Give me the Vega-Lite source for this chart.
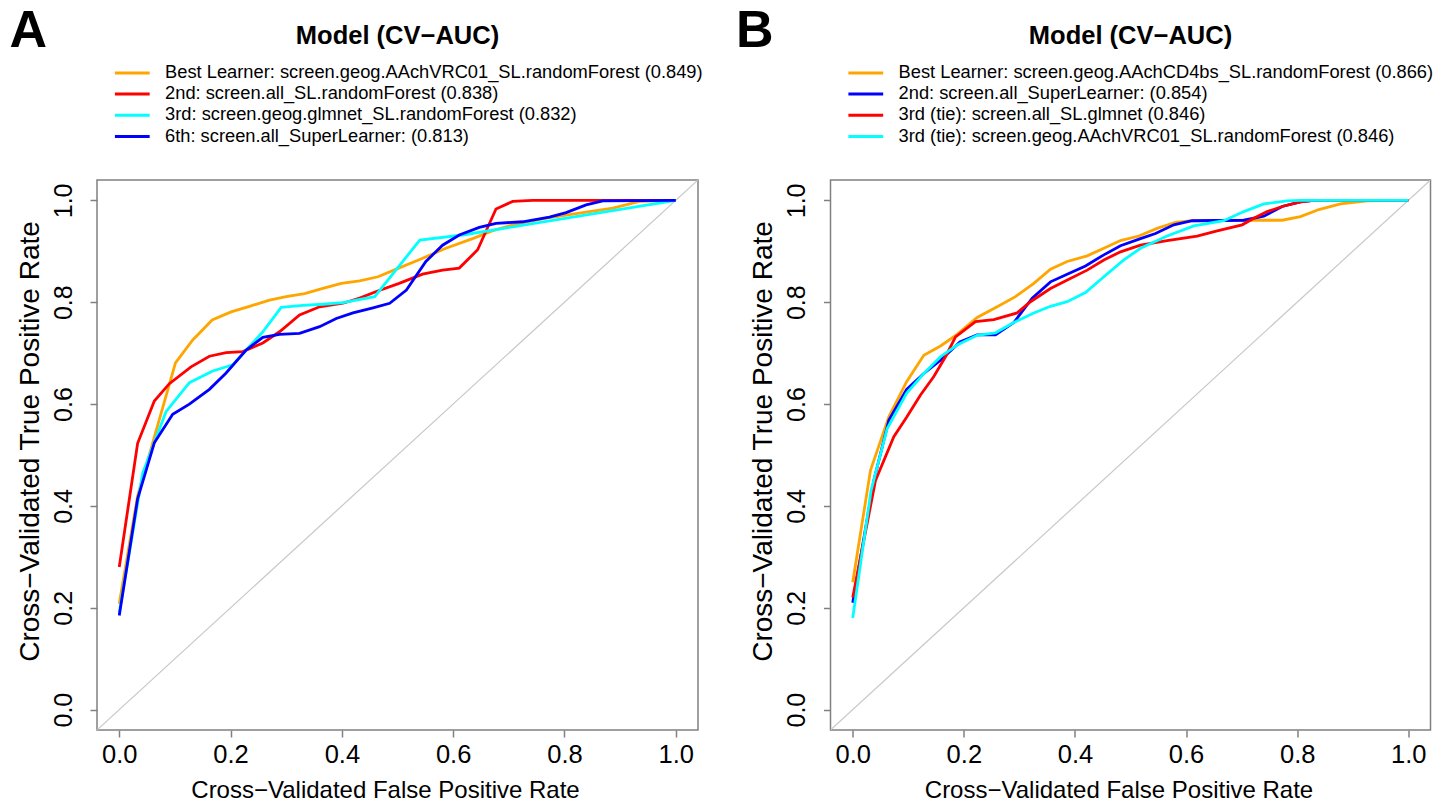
{
  "$schema": "https://vega.github.io/schema/vega-lite/v6.json",
  "padding": {"left": 9, "top": 4, "right": 5, "bottom": 0},
  "spacing": 22.5,
  "resolve": {"scale": {"color": "independent"}, "legend": {"color": "independent"}},
  "config": {
    "font": "Liberation Sans",
    "view": {"stroke": "#808080", "strokeWidth": 1.5},
    "axis": {
      "grid": false, "domain": false, "tickColor": "#808080", "tickSize": 7, "tickWidth": 1.5,
      "labelFontSize": 24, "labelColor": "#000000", "labelFont": "Liberation Sans",
      "titleFontSize": 24, "titleFontWeight": "normal", "titleColor": "#000000", "titleFont": "Liberation Sans"
    },
    "title": {"font": "Liberation Sans", "color": "#000000"}
  },
  "datasets": {
    "diag": [{"fpr": -0.04, "tpr": -0.04}, {"fpr": 1.04, "tpr": 1.04}],
    "rocA": [
      {"model": "Best Learner: screen.geog.AAchVRC01_SL.randomForest (0.849)", "fpr": 0, "tpr": 0.208},
      {"model": "Best Learner: screen.geog.AAchVRC01_SL.randomForest (0.849)", "fpr": 0.033, "tpr": 0.42},
      {"model": "Best Learner: screen.geog.AAchVRC01_SL.randomForest (0.849)", "fpr": 0.101, "tpr": 0.681},
      {"model": "Best Learner: screen.geog.AAchVRC01_SL.randomForest (0.849)", "fpr": 0.132, "tpr": 0.726},
      {"model": "Best Learner: screen.geog.AAchVRC01_SL.randomForest (0.849)", "fpr": 0.167, "tpr": 0.765},
      {"model": "Best Learner: screen.geog.AAchVRC01_SL.randomForest (0.849)", "fpr": 0.201, "tpr": 0.781},
      {"model": "Best Learner: screen.geog.AAchVRC01_SL.randomForest (0.849)", "fpr": 0.234, "tpr": 0.792},
      {"model": "Best Learner: screen.geog.AAchVRC01_SL.randomForest (0.849)", "fpr": 0.27, "tpr": 0.804},
      {"model": "Best Learner: screen.geog.AAchVRC01_SL.randomForest (0.849)", "fpr": 0.3, "tpr": 0.811},
      {"model": "Best Learner: screen.geog.AAchVRC01_SL.randomForest (0.849)", "fpr": 0.333, "tpr": 0.817},
      {"model": "Best Learner: screen.geog.AAchVRC01_SL.randomForest (0.849)", "fpr": 0.366, "tpr": 0.827},
      {"model": "Best Learner: screen.geog.AAchVRC01_SL.randomForest (0.849)", "fpr": 0.399, "tpr": 0.837},
      {"model": "Best Learner: screen.geog.AAchVRC01_SL.randomForest (0.849)", "fpr": 0.432, "tpr": 0.842},
      {"model": "Best Learner: screen.geog.AAchVRC01_SL.randomForest (0.849)", "fpr": 0.465, "tpr": 0.85},
      {"model": "Best Learner: screen.geog.AAchVRC01_SL.randomForest (0.849)", "fpr": 0.5, "tpr": 0.866},
      {"model": "Best Learner: screen.geog.AAchVRC01_SL.randomForest (0.849)", "fpr": 0.54, "tpr": 0.884},
      {"model": "Best Learner: screen.geog.AAchVRC01_SL.randomForest (0.849)", "fpr": 0.587, "tpr": 0.906},
      {"model": "Best Learner: screen.geog.AAchVRC01_SL.randomForest (0.849)", "fpr": 0.635, "tpr": 0.925},
      {"model": "Best Learner: screen.geog.AAchVRC01_SL.randomForest (0.849)", "fpr": 0.67, "tpr": 0.94},
      {"model": "Best Learner: screen.geog.AAchVRC01_SL.randomForest (0.849)", "fpr": 0.707, "tpr": 0.952},
      {"model": "Best Learner: screen.geog.AAchVRC01_SL.randomForest (0.849)", "fpr": 0.767, "tpr": 0.965},
      {"model": "Best Learner: screen.geog.AAchVRC01_SL.randomForest (0.849)", "fpr": 0.827, "tpr": 0.975},
      {"model": "Best Learner: screen.geog.AAchVRC01_SL.randomForest (0.849)", "fpr": 0.887, "tpr": 0.985},
      {"model": "Best Learner: screen.geog.AAchVRC01_SL.randomForest (0.849)", "fpr": 0.935, "tpr": 0.998},
      {"model": "Best Learner: screen.geog.AAchVRC01_SL.randomForest (0.849)", "fpr": 1.0, "tpr": 1.0},
      {"model": "2nd: screen.all_SL.randomForest (0.838)", "fpr": 0, "tpr": 0.28},
      {"model": "2nd: screen.all_SL.randomForest (0.838)", "fpr": 0.033, "tpr": 0.523},
      {"model": "2nd: screen.all_SL.randomForest (0.838)", "fpr": 0.063, "tpr": 0.606},
      {"model": "2nd: screen.all_SL.randomForest (0.838)", "fpr": 0.09, "tpr": 0.64},
      {"model": "2nd: screen.all_SL.randomForest (0.838)", "fpr": 0.129, "tpr": 0.673},
      {"model": "2nd: screen.all_SL.randomForest (0.838)", "fpr": 0.162, "tpr": 0.694},
      {"model": "2nd: screen.all_SL.randomForest (0.838)", "fpr": 0.192, "tpr": 0.701},
      {"model": "2nd: screen.all_SL.randomForest (0.838)", "fpr": 0.222, "tpr": 0.703},
      {"model": "2nd: screen.all_SL.randomForest (0.838)", "fpr": 0.258, "tpr": 0.72},
      {"model": "2nd: screen.all_SL.randomForest (0.838)", "fpr": 0.288, "tpr": 0.742},
      {"model": "2nd: screen.all_SL.randomForest (0.838)", "fpr": 0.324, "tpr": 0.775},
      {"model": "2nd: screen.all_SL.randomForest (0.838)", "fpr": 0.36, "tpr": 0.791},
      {"model": "2nd: screen.all_SL.randomForest (0.838)", "fpr": 0.402, "tpr": 0.798},
      {"model": "2nd: screen.all_SL.randomForest (0.838)", "fpr": 0.432, "tpr": 0.808},
      {"model": "2nd: screen.all_SL.randomForest (0.838)", "fpr": 0.462, "tpr": 0.821},
      {"model": "2nd: screen.all_SL.randomForest (0.838)", "fpr": 0.503, "tpr": 0.837},
      {"model": "2nd: screen.all_SL.randomForest (0.838)", "fpr": 0.545, "tpr": 0.855},
      {"model": "2nd: screen.all_SL.randomForest (0.838)", "fpr": 0.581, "tpr": 0.863},
      {"model": "2nd: screen.all_SL.randomForest (0.838)", "fpr": 0.611, "tpr": 0.867},
      {"model": "2nd: screen.all_SL.randomForest (0.838)", "fpr": 0.644, "tpr": 0.903},
      {"model": "2nd: screen.all_SL.randomForest (0.838)", "fpr": 0.677, "tpr": 0.983},
      {"model": "2nd: screen.all_SL.randomForest (0.838)", "fpr": 0.707, "tpr": 0.998},
      {"model": "2nd: screen.all_SL.randomForest (0.838)", "fpr": 0.743, "tpr": 1.0},
      {"model": "2nd: screen.all_SL.randomForest (0.838)", "fpr": 1.0, "tpr": 1.0},
      {"model": "3rd: screen.geog.glmnet_SL.randomForest (0.832)", "fpr": 0, "tpr": 0.19},
      {"model": "3rd: screen.geog.glmnet_SL.randomForest (0.832)", "fpr": 0.042, "tpr": 0.464},
      {"model": "3rd: screen.geog.glmnet_SL.randomForest (0.832)", "fpr": 0.084, "tpr": 0.585},
      {"model": "3rd: screen.geog.glmnet_SL.randomForest (0.832)", "fpr": 0.126, "tpr": 0.642},
      {"model": "3rd: screen.geog.glmnet_SL.randomForest (0.832)", "fpr": 0.168, "tpr": 0.665},
      {"model": "3rd: screen.geog.glmnet_SL.randomForest (0.832)", "fpr": 0.204, "tpr": 0.677},
      {"model": "3rd: screen.geog.glmnet_SL.randomForest (0.832)", "fpr": 0.228, "tpr": 0.706},
      {"model": "3rd: screen.geog.glmnet_SL.randomForest (0.832)", "fpr": 0.258, "tpr": 0.742},
      {"model": "3rd: screen.geog.glmnet_SL.randomForest (0.832)", "fpr": 0.291, "tpr": 0.79},
      {"model": "3rd: screen.geog.glmnet_SL.randomForest (0.832)", "fpr": 0.33, "tpr": 0.794},
      {"model": "3rd: screen.geog.glmnet_SL.randomForest (0.832)", "fpr": 0.366, "tpr": 0.796},
      {"model": "3rd: screen.geog.glmnet_SL.randomForest (0.832)", "fpr": 0.402, "tpr": 0.799},
      {"model": "3rd: screen.geog.glmnet_SL.randomForest (0.832)", "fpr": 0.459, "tpr": 0.811},
      {"model": "3rd: screen.geog.glmnet_SL.randomForest (0.832)", "fpr": 0.54, "tpr": 0.922},
      {"model": "3rd: screen.geog.glmnet_SL.randomForest (0.832)", "fpr": 0.617, "tpr": 0.932},
      {"model": "3rd: screen.geog.glmnet_SL.randomForest (0.832)", "fpr": 1.0, "tpr": 1.0},
      {"model": "6th: screen.all_SuperLearner: (0.813)", "fpr": 0, "tpr": 0.185},
      {"model": "6th: screen.all_SuperLearner: (0.813)", "fpr": 0.033, "tpr": 0.414},
      {"model": "6th: screen.all_SuperLearner: (0.813)", "fpr": 0.063, "tpr": 0.524},
      {"model": "6th: screen.all_SuperLearner: (0.813)", "fpr": 0.096, "tpr": 0.58},
      {"model": "6th: screen.all_SuperLearner: (0.813)", "fpr": 0.126, "tpr": 0.6},
      {"model": "6th: screen.all_SuperLearner: (0.813)", "fpr": 0.162, "tpr": 0.629},
      {"model": "6th: screen.all_SuperLearner: (0.813)", "fpr": 0.192, "tpr": 0.661},
      {"model": "6th: screen.all_SuperLearner: (0.813)", "fpr": 0.228, "tpr": 0.706},
      {"model": "6th: screen.all_SuperLearner: (0.813)", "fpr": 0.258, "tpr": 0.731},
      {"model": "6th: screen.all_SuperLearner: (0.813)", "fpr": 0.288, "tpr": 0.737},
      {"model": "6th: screen.all_SuperLearner: (0.813)", "fpr": 0.324, "tpr": 0.739},
      {"model": "6th: screen.all_SuperLearner: (0.813)", "fpr": 0.36, "tpr": 0.752},
      {"model": "6th: screen.all_SuperLearner: (0.813)", "fpr": 0.39, "tpr": 0.768},
      {"model": "6th: screen.all_SuperLearner: (0.813)", "fpr": 0.42, "tpr": 0.779},
      {"model": "6th: screen.all_SuperLearner: (0.813)", "fpr": 0.456, "tpr": 0.789},
      {"model": "6th: screen.all_SuperLearner: (0.813)", "fpr": 0.486, "tpr": 0.798},
      {"model": "6th: screen.all_SuperLearner: (0.813)", "fpr": 0.516, "tpr": 0.824},
      {"model": "6th: screen.all_SuperLearner: (0.813)", "fpr": 0.551, "tpr": 0.88},
      {"model": "6th: screen.all_SuperLearner: (0.813)", "fpr": 0.581, "tpr": 0.912},
      {"model": "6th: screen.all_SuperLearner: (0.813)", "fpr": 0.611, "tpr": 0.932},
      {"model": "6th: screen.all_SuperLearner: (0.813)", "fpr": 0.647, "tpr": 0.947},
      {"model": "6th: screen.all_SuperLearner: (0.813)", "fpr": 0.677, "tpr": 0.955},
      {"model": "6th: screen.all_SuperLearner: (0.813)", "fpr": 0.725, "tpr": 0.958},
      {"model": "6th: screen.all_SuperLearner: (0.813)", "fpr": 0.773, "tpr": 0.967},
      {"model": "6th: screen.all_SuperLearner: (0.813)", "fpr": 0.803, "tpr": 0.976},
      {"model": "6th: screen.all_SuperLearner: (0.813)", "fpr": 0.839, "tpr": 0.991},
      {"model": "6th: screen.all_SuperLearner: (0.813)", "fpr": 0.869, "tpr": 0.999},
      {"model": "6th: screen.all_SuperLearner: (0.813)", "fpr": 1.0, "tpr": 1.0}
    ],
    "rocB": [
      {"model": "Best Learner: screen.geog.AAchCD4bs_SL.randomForest (0.866)", "fpr": 0, "tpr": 0.25},
      {"model": "Best Learner: screen.geog.AAchCD4bs_SL.randomForest (0.866)", "fpr": 0.032, "tpr": 0.47},
      {"model": "Best Learner: screen.geog.AAchCD4bs_SL.randomForest (0.866)", "fpr": 0.065, "tpr": 0.575},
      {"model": "Best Learner: screen.geog.AAchCD4bs_SL.randomForest (0.866)", "fpr": 0.097, "tpr": 0.644},
      {"model": "Best Learner: screen.geog.AAchCD4bs_SL.randomForest (0.866)", "fpr": 0.128, "tpr": 0.696},
      {"model": "Best Learner: screen.geog.AAchCD4bs_SL.randomForest (0.866)", "fpr": 0.158, "tpr": 0.714},
      {"model": "Best Learner: screen.geog.AAchCD4bs_SL.randomForest (0.866)", "fpr": 0.188, "tpr": 0.737},
      {"model": "Best Learner: screen.geog.AAchCD4bs_SL.randomForest (0.866)", "fpr": 0.224, "tpr": 0.77},
      {"model": "Best Learner: screen.geog.AAchCD4bs_SL.randomForest (0.866)", "fpr": 0.26, "tpr": 0.791},
      {"model": "Best Learner: screen.geog.AAchCD4bs_SL.randomForest (0.866)", "fpr": 0.293, "tpr": 0.811},
      {"model": "Best Learner: screen.geog.AAchCD4bs_SL.randomForest (0.866)", "fpr": 0.326, "tpr": 0.837},
      {"model": "Best Learner: screen.geog.AAchCD4bs_SL.randomForest (0.866)", "fpr": 0.356, "tpr": 0.865},
      {"model": "Best Learner: screen.geog.AAchCD4bs_SL.randomForest (0.866)", "fpr": 0.386, "tpr": 0.88},
      {"model": "Best Learner: screen.geog.AAchCD4bs_SL.randomForest (0.866)", "fpr": 0.422, "tpr": 0.891},
      {"model": "Best Learner: screen.geog.AAchCD4bs_SL.randomForest (0.866)", "fpr": 0.452, "tpr": 0.906},
      {"model": "Best Learner: screen.geog.AAchCD4bs_SL.randomForest (0.866)", "fpr": 0.482, "tpr": 0.921},
      {"model": "Best Learner: screen.geog.AAchCD4bs_SL.randomForest (0.866)", "fpr": 0.515, "tpr": 0.93},
      {"model": "Best Learner: screen.geog.AAchCD4bs_SL.randomForest (0.866)", "fpr": 0.548, "tpr": 0.945},
      {"model": "Best Learner: screen.geog.AAchCD4bs_SL.randomForest (0.866)", "fpr": 0.581, "tpr": 0.957},
      {"model": "Best Learner: screen.geog.AAchCD4bs_SL.randomForest (0.866)", "fpr": 0.611, "tpr": 0.96},
      {"model": "Best Learner: screen.geog.AAchCD4bs_SL.randomForest (0.866)", "fpr": 0.716, "tpr": 0.961},
      {"model": "Best Learner: screen.geog.AAchCD4bs_SL.randomForest (0.866)", "fpr": 0.773, "tpr": 0.961},
      {"model": "Best Learner: screen.geog.AAchCD4bs_SL.randomForest (0.866)", "fpr": 0.806, "tpr": 0.968},
      {"model": "Best Learner: screen.geog.AAchCD4bs_SL.randomForest (0.866)", "fpr": 0.839, "tpr": 0.982},
      {"model": "Best Learner: screen.geog.AAchCD4bs_SL.randomForest (0.866)", "fpr": 0.878, "tpr": 0.993},
      {"model": "Best Learner: screen.geog.AAchCD4bs_SL.randomForest (0.866)", "fpr": 0.926, "tpr": 0.999},
      {"model": "Best Learner: screen.geog.AAchCD4bs_SL.randomForest (0.866)", "fpr": 1.0, "tpr": 1.0},
      {"model": "2nd: screen.all_SuperLearner: (0.854)", "fpr": 0, "tpr": 0.21},
      {"model": "2nd: screen.all_SuperLearner: (0.854)", "fpr": 0.038, "tpr": 0.45},
      {"model": "2nd: screen.all_SuperLearner: (0.854)", "fpr": 0.065, "tpr": 0.568},
      {"model": "2nd: screen.all_SuperLearner: (0.854)", "fpr": 0.097, "tpr": 0.629},
      {"model": "2nd: screen.all_SuperLearner: (0.854)", "fpr": 0.128, "tpr": 0.66},
      {"model": "2nd: screen.all_SuperLearner: (0.854)", "fpr": 0.158, "tpr": 0.686},
      {"model": "2nd: screen.all_SuperLearner: (0.854)", "fpr": 0.193, "tpr": 0.722},
      {"model": "2nd: screen.all_SuperLearner: (0.854)", "fpr": 0.224, "tpr": 0.736},
      {"model": "2nd: screen.all_SuperLearner: (0.854)", "fpr": 0.257, "tpr": 0.736},
      {"model": "2nd: screen.all_SuperLearner: (0.854)", "fpr": 0.29, "tpr": 0.76},
      {"model": "2nd: screen.all_SuperLearner: (0.854)", "fpr": 0.323, "tpr": 0.808},
      {"model": "2nd: screen.all_SuperLearner: (0.854)", "fpr": 0.356, "tpr": 0.84},
      {"model": "2nd: screen.all_SuperLearner: (0.854)", "fpr": 0.386, "tpr": 0.855},
      {"model": "2nd: screen.all_SuperLearner: (0.854)", "fpr": 0.419, "tpr": 0.871},
      {"model": "2nd: screen.all_SuperLearner: (0.854)", "fpr": 0.452, "tpr": 0.893},
      {"model": "2nd: screen.all_SuperLearner: (0.854)", "fpr": 0.482, "tpr": 0.911},
      {"model": "2nd: screen.all_SuperLearner: (0.854)", "fpr": 0.518, "tpr": 0.925},
      {"model": "2nd: screen.all_SuperLearner: (0.854)", "fpr": 0.545, "tpr": 0.935},
      {"model": "2nd: screen.all_SuperLearner: (0.854)", "fpr": 0.578, "tpr": 0.952},
      {"model": "2nd: screen.all_SuperLearner: (0.854)", "fpr": 0.611, "tpr": 0.96},
      {"model": "2nd: screen.all_SuperLearner: (0.854)", "fpr": 0.704, "tpr": 0.961},
      {"model": "2nd: screen.all_SuperLearner: (0.854)", "fpr": 0.74, "tpr": 0.969},
      {"model": "2nd: screen.all_SuperLearner: (0.854)", "fpr": 0.773, "tpr": 0.988},
      {"model": "2nd: screen.all_SuperLearner: (0.854)", "fpr": 0.806, "tpr": 0.997},
      {"model": "2nd: screen.all_SuperLearner: (0.854)", "fpr": 0.83, "tpr": 1.0},
      {"model": "2nd: screen.all_SuperLearner: (0.854)", "fpr": 1.0, "tpr": 1.0},
      {"model": "3rd (tie): screen.all_SL.glmnet (0.846)", "fpr": 0, "tpr": 0.22},
      {"model": "3rd (tie): screen.all_SL.glmnet (0.846)", "fpr": 0.041, "tpr": 0.45},
      {"model": "3rd (tie): screen.all_SL.glmnet (0.846)", "fpr": 0.074, "tpr": 0.536},
      {"model": "3rd (tie): screen.all_SL.glmnet (0.846)", "fpr": 0.097, "tpr": 0.574},
      {"model": "3rd (tie): screen.all_SL.glmnet (0.846)", "fpr": 0.122, "tpr": 0.618},
      {"model": "3rd (tie): screen.all_SL.glmnet (0.846)", "fpr": 0.146, "tpr": 0.654},
      {"model": "3rd (tie): screen.all_SL.glmnet (0.846)", "fpr": 0.167, "tpr": 0.693},
      {"model": "3rd (tie): screen.all_SL.glmnet (0.846)", "fpr": 0.185, "tpr": 0.732},
      {"model": "3rd (tie): screen.all_SL.glmnet (0.846)", "fpr": 0.221, "tpr": 0.762},
      {"model": "3rd (tie): screen.all_SL.glmnet (0.846)", "fpr": 0.254, "tpr": 0.766},
      {"model": "3rd (tie): screen.all_SL.glmnet (0.846)", "fpr": 0.296, "tpr": 0.779},
      {"model": "3rd (tie): screen.all_SL.glmnet (0.846)", "fpr": 0.32, "tpr": 0.801},
      {"model": "3rd (tie): screen.all_SL.glmnet (0.846)", "fpr": 0.356, "tpr": 0.827},
      {"model": "3rd (tie): screen.all_SL.glmnet (0.846)", "fpr": 0.389, "tpr": 0.845},
      {"model": "3rd (tie): screen.all_SL.glmnet (0.846)", "fpr": 0.422, "tpr": 0.863},
      {"model": "3rd (tie): screen.all_SL.glmnet (0.846)", "fpr": 0.452, "tpr": 0.883},
      {"model": "3rd (tie): screen.all_SL.glmnet (0.846)", "fpr": 0.482, "tpr": 0.899},
      {"model": "3rd (tie): screen.all_SL.glmnet (0.846)", "fpr": 0.518, "tpr": 0.912},
      {"model": "3rd (tie): screen.all_SL.glmnet (0.846)", "fpr": 0.566, "tpr": 0.921},
      {"model": "3rd (tie): screen.all_SL.glmnet (0.846)", "fpr": 0.62, "tpr": 0.93},
      {"model": "3rd (tie): screen.all_SL.glmnet (0.846)", "fpr": 0.656, "tpr": 0.94},
      {"model": "3rd (tie): screen.all_SL.glmnet (0.846)", "fpr": 0.701, "tpr": 0.952},
      {"model": "3rd (tie): screen.all_SL.glmnet (0.846)", "fpr": 0.722, "tpr": 0.965},
      {"model": "3rd (tie): screen.all_SL.glmnet (0.846)", "fpr": 0.746, "tpr": 0.978},
      {"model": "3rd (tie): screen.all_SL.glmnet (0.846)", "fpr": 0.776, "tpr": 0.989},
      {"model": "3rd (tie): screen.all_SL.glmnet (0.846)", "fpr": 0.806, "tpr": 0.997},
      {"model": "3rd (tie): screen.all_SL.glmnet (0.846)", "fpr": 0.83, "tpr": 1.0},
      {"model": "3rd (tie): screen.all_SL.glmnet (0.846)", "fpr": 1.0, "tpr": 1.0},
      {"model": "3rd (tie): screen.geog.AAchVRC01_SL.randomForest (0.846)", "fpr": 0, "tpr": 0.18},
      {"model": "3rd (tie): screen.geog.AAchVRC01_SL.randomForest (0.846)", "fpr": 0.033, "tpr": 0.43},
      {"model": "3rd (tie): screen.geog.AAchVRC01_SL.randomForest (0.846)", "fpr": 0.062, "tpr": 0.552},
      {"model": "3rd (tie): screen.geog.AAchVRC01_SL.randomForest (0.846)", "fpr": 0.097, "tpr": 0.621},
      {"model": "3rd (tie): screen.geog.AAchVRC01_SL.randomForest (0.846)", "fpr": 0.128, "tpr": 0.66},
      {"model": "3rd (tie): screen.geog.AAchVRC01_SL.randomForest (0.846)", "fpr": 0.158, "tpr": 0.693},
      {"model": "3rd (tie): screen.geog.AAchVRC01_SL.randomForest (0.846)", "fpr": 0.188, "tpr": 0.716},
      {"model": "3rd (tie): screen.geog.AAchVRC01_SL.randomForest (0.846)", "fpr": 0.224, "tpr": 0.735},
      {"model": "3rd (tie): screen.geog.AAchVRC01_SL.randomForest (0.846)", "fpr": 0.257, "tpr": 0.74},
      {"model": "3rd (tie): screen.geog.AAchVRC01_SL.randomForest (0.846)", "fpr": 0.29, "tpr": 0.76},
      {"model": "3rd (tie): screen.geog.AAchVRC01_SL.randomForest (0.846)", "fpr": 0.326, "tpr": 0.779},
      {"model": "3rd (tie): screen.geog.AAchVRC01_SL.randomForest (0.846)", "fpr": 0.356, "tpr": 0.792},
      {"model": "3rd (tie): screen.geog.AAchVRC01_SL.randomForest (0.846)", "fpr": 0.386, "tpr": 0.801},
      {"model": "3rd (tie): screen.geog.AAchVRC01_SL.randomForest (0.846)", "fpr": 0.419, "tpr": 0.819},
      {"model": "3rd (tie): screen.geog.AAchVRC01_SL.randomForest (0.846)", "fpr": 0.452, "tpr": 0.85},
      {"model": "3rd (tie): screen.geog.AAchVRC01_SL.randomForest (0.846)", "fpr": 0.488, "tpr": 0.883},
      {"model": "3rd (tie): screen.geog.AAchVRC01_SL.randomForest (0.846)", "fpr": 0.518, "tpr": 0.906},
      {"model": "3rd (tie): screen.geog.AAchVRC01_SL.randomForest (0.846)", "fpr": 0.566, "tpr": 0.93},
      {"model": "3rd (tie): screen.geog.AAchVRC01_SL.randomForest (0.846)", "fpr": 0.614, "tpr": 0.95},
      {"model": "3rd (tie): screen.geog.AAchVRC01_SL.randomForest (0.846)", "fpr": 0.668, "tpr": 0.96},
      {"model": "3rd (tie): screen.geog.AAchVRC01_SL.randomForest (0.846)", "fpr": 0.704, "tpr": 0.978},
      {"model": "3rd (tie): screen.geog.AAchVRC01_SL.randomForest (0.846)", "fpr": 0.74, "tpr": 0.993},
      {"model": "3rd (tie): screen.geog.AAchVRC01_SL.randomForest (0.846)", "fpr": 0.782, "tpr": 0.999},
      {"model": "3rd (tie): screen.geog.AAchVRC01_SL.randomForest (0.846)", "fpr": 0.806, "tpr": 1.0},
      {"model": "3rd (tie): screen.geog.AAchVRC01_SL.randomForest (0.846)", "fpr": 1.0, "tpr": 1.0}
    ]
  },
  "hconcat": [
    {
      "title": {"text": "A", "anchor": "start", "frame": "bounds", "fontSize": 52, "fontWeight": "bold", "baseline": "alphabetic", "offset": 0, "dy": 76, "dx": -6},
      "resolve": {"scale": {"color": "independent"}, "legend": {"color": "independent"}},
      "hconcat": [
        {
          "title": {"text": "Model (CV−AUC)", "anchor": "middle", "frame": "group", "fontSize": 25.5, "fontWeight": "bold", "offset": 6},
          "width": 601,
          "height": 550,
          "layer": [
            {
              "data": {"name": "diag"},
              "mark": {"type": "line", "stroke": "#c8c8c8", "strokeWidth": 1.2, "clip": true},
              "encoding": {
                "x": {"field": "fpr", "type": "quantitative", "scale": {"domain": [-0.04, 1.04], "nice": false, "zero": false},
                      "axis": {"values": [0, 0.2, 0.4, 0.6, 0.8, 1.0], "format": ".1f", "labelFontSize": 25.5, "labelPadding": 5, "title": "Cross−Validated False Positive Rate", "titlePadding": 11, "titleX": 288}},
                "y": {"field": "tpr", "type": "quantitative", "scale": {"domain": [-0.04, 1.04], "nice": false, "zero": false},
                      "axis": {"values": [0, 0.2, 0.4, 0.6, 0.8, 1.0], "format": ".1f", "labelFontSize": 25, "labelAngle": -90, "labelAlign": "center", "labelBaseline": "bottom", "labelPadding": 14, "title": "Cross−Validated True Positive Rate", "titleFontSize": 28, "titlePadding": 6.75, "titleY": 261}}
              }
            },
            {
              "data": {"name": "rocA"},
              "mark": {"type": "line", "strokeWidth": 2.8, "clip": true},
              "encoding": {
                "x": {"field": "fpr", "type": "quantitative"},
                "y": {"field": "tpr", "type": "quantitative"},
                "color": {
                  "field": "model", "type": "nominal",
                  "scale": {"domain": ["Best Learner: screen.geog.AAchVRC01_SL.randomForest (0.849)", "2nd: screen.all_SL.randomForest (0.838)", "3rd: screen.geog.glmnet_SL.randomForest (0.832)", "6th: screen.all_SuperLearner: (0.813)"],
                            "range": ["#FFA500", "#FF0000", "#00FFFF", "#0000FF"]},
                  "legend": {"orient": "top", "direction": "vertical", "columns": 1, "title": null, "labelFontSize": 18.3, "labelFont": "Liberation Sans", "labelColor": "#000000", "labelLimit": 0,
                             "symbolType": "M0,0H4.8", "symbolSize": 210, "symbolStrokeWidth": 3, "rowPadding": 2.2, "labelOffset": 41, "padding": 8.75, "offset": 26}
                }
              }
            }
          ]
        }
      ]
    },
    {
      "title": {"text": "B", "anchor": "start", "frame": "bounds", "fontSize": 52, "fontWeight": "bold", "baseline": "alphabetic", "offset": 0, "dy": 76, "dx": -13},
      "resolve": {"scale": {"color": "independent"}, "legend": {"color": "independent"}},
      "hconcat": [
        {
          "title": {"text": "Model (CV−AUC)", "anchor": "middle", "frame": "group", "fontSize": 25.5, "fontWeight": "bold", "offset": 6},
          "width": 600,
          "height": 550,
          "layer": [
            {
              "data": {"name": "diag"},
              "mark": {"type": "line", "stroke": "#c8c8c8", "strokeWidth": 1.2, "clip": true},
              "encoding": {
                "x": {"field": "fpr", "type": "quantitative", "scale": {"domain": [-0.04, 1.04], "nice": false, "zero": false},
                      "axis": {"values": [0, 0.2, 0.4, 0.6, 0.8, 1.0], "format": ".1f", "labelFontSize": 25.5, "labelPadding": 5, "title": "Cross−Validated False Positive Rate", "titlePadding": 11, "titleX": 288}},
                "y": {"field": "tpr", "type": "quantitative", "scale": {"domain": [-0.04, 1.04], "nice": false, "zero": false},
                      "axis": {"values": [0, 0.2, 0.4, 0.6, 0.8, 1.0], "format": ".1f", "labelFontSize": 25, "labelAngle": -90, "labelAlign": "center", "labelBaseline": "bottom", "labelPadding": 14, "title": "Cross−Validated True Positive Rate", "titleFontSize": 28, "titlePadding": 6.75, "titleY": 261}}
              }
            },
            {
              "data": {"name": "rocB"},
              "mark": {"type": "line", "strokeWidth": 2.8, "clip": true},
              "encoding": {
                "x": {"field": "fpr", "type": "quantitative"},
                "y": {"field": "tpr", "type": "quantitative"},
                "color": {
                  "field": "model", "type": "nominal",
                  "scale": {"domain": ["Best Learner: screen.geog.AAchCD4bs_SL.randomForest (0.866)", "2nd: screen.all_SuperLearner: (0.854)", "3rd (tie): screen.all_SL.glmnet (0.846)", "3rd (tie): screen.geog.AAchVRC01_SL.randomForest (0.846)"],
                            "range": ["#FFA500", "#0000FF", "#FF0000", "#00FFFF"]},
                  "legend": {"orient": "top", "direction": "vertical", "columns": 1, "title": null, "labelFontSize": 18.3, "labelFont": "Liberation Sans", "labelColor": "#000000", "labelLimit": 0,
                             "symbolType": "M0,0H4.8", "symbolSize": 210, "symbolStrokeWidth": 3, "rowPadding": 2.2, "labelOffset": 41, "padding": 8.75, "offset": 26}
                }
              }
            }
          ]
        }
      ]
    }
  ]
}
